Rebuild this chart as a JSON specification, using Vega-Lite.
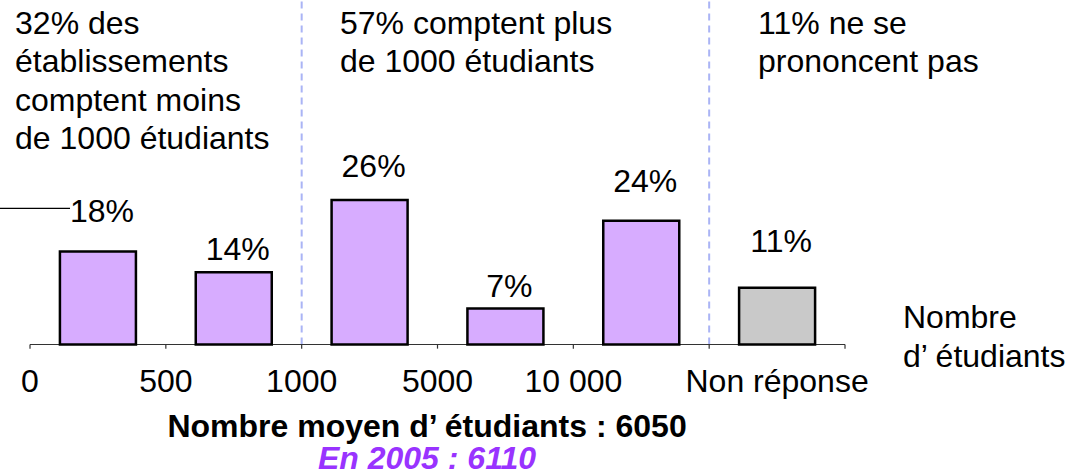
{
  "$schema": "https://vega.github.io/schema/vega-lite/v6.json",
  "width": 1069,
  "height": 476,
  "autosize": {"type": "none"},
  "padding": 0,
  "background": "white",
  "config": {"view": {"stroke": null}, "font": "Liberation Sans", "text": {"font": "Liberation Sans"}, "scale": {"continuousPadding": 0}},
  "datasets": {
    "barres": [
      {"classe": "0-500", "centre": 0.5, "valeur": 18, "etiquette": "18%", "pos_etiquette": 23.8, "groupe": "réponse"},
      {"classe": "500-1000", "centre": 1.5, "valeur": 14, "etiquette": "14%", "pos_etiquette": 16.4, "groupe": "réponse"},
      {"classe": "1000-5000", "centre": 2.5, "valeur": 28, "etiquette": "26%", "pos_etiquette": 32.5, "groupe": "réponse"},
      {"classe": "5000-10000", "centre": 3.5, "valeur": 7, "etiquette": "7%", "pos_etiquette": 9.3, "groupe": "réponse"},
      {"classe": "10000+", "centre": 4.5, "valeur": 24, "etiquette": "24%", "pos_etiquette": 29.6, "groupe": "réponse"},
      {"classe": "Non réponse", "centre": 5.5, "valeur": 11, "etiquette": "11%", "pos_etiquette": 18.0, "groupe": "non réponse"}
    ],
    "graduations": [
      {"u": 0}, {"u": 1}, {"u": 2}, {"u": 3}, {"u": 4}, {"u": 5}, {"u": 6}
    ],
    "libelles": [
      {"u": 0, "t": "0"}, {"u": 1, "t": "500"}, {"u": 2, "t": "1000"}, {"u": 3, "t": "5000"},
      {"u": 4, "t": "10 000"}, {"u": 5.5, "t": "Non réponse"}
    ],
    "separateurs": [{"u": 2}, {"u": 5}],
    "annotations": [
      {"u": -0.11, "v": 60.2, "t": ["32% des", "établissements", "comptent moins", "de 1000 étudiants"]},
      {"u": 2.282, "v": 60.2, "t": ["57% comptent plus", "de 1000 étudiants"]},
      {"u": 5.36, "v": 60.2, "t": ["11% ne se", "prononcent pas"]},
      {"u": 6.427, "v": 3.14, "t": ["Nombre", "d’ étudiants"]}
    ]
  },
  "layer": [
    {
      "data": {"name": "separateurs"},
      "mark": {"type": "rule", "color": "#AAB4F5", "strokeWidth": 2, "strokeDash": [7, 5]},
      "encoding": {
        "x": {"field": "u", "type": "quantitative", "scale": {"domain": [-0.2209, 7.649], "nice": false, "zero": false, "padding": 0}, "axis": null},
        "y": {"datum": 0, "type": "quantitative", "scale": {"domain": [-25.48, 66.76], "nice": false, "zero": false, "padding": 0}, "axis": null},
        "y2": {"datum": 66.76}
      }
    },
    {
      "data": {"values": [{"debut": 0, "fin": 6}]},
      "mark": {"type": "rule", "color": "#333333", "strokeWidth": 1.2},
      "encoding": {
        "x": {"field": "debut", "type": "quantitative", "axis": null},
        "x2": {"field": "fin"},
        "y": {"datum": 0, "type": "quantitative", "axis": null}
      }
    },
    {
      "data": {"name": "graduations"},
      "mark": {"type": "rule", "color": "#333333", "strokeWidth": 1.2},
      "encoding": {
        "x": {"field": "u", "type": "quantitative", "axis": null},
        "y": {"datum": 0, "type": "quantitative", "axis": null},
        "y2": {"datum": -0.8}
      }
    },
    {
      "data": {"values": [{"debut": -0.2209, "fin": 0.2945, "niveau": 26.4}]},
      "mark": {"type": "rule", "color": "black", "strokeWidth": 1.2},
      "encoding": {
        "x": {"field": "debut", "type": "quantitative", "axis": null},
        "x2": {"field": "fin"},
        "y": {"field": "niveau", "type": "quantitative", "axis": null}
      }
    },
    {
      "data": {"name": "barres"},
      "mark": {"type": "bar", "width": 76, "stroke": "black", "strokeWidth": 2.5},
      "encoding": {
        "x": {"field": "centre", "type": "quantitative", "axis": null},
        "y": {"field": "valeur", "type": "quantitative", "axis": null},
        "fill": {"field": "groupe", "type": "nominal", "scale": {"domain": ["réponse", "non réponse"], "range": ["#D7ACFF", "#C9C9C9"]}, "legend": null}
      }
    },
    {
      "data": {"name": "barres"},
      "mark": {"type": "text", "fontSize": 32, "dx": 4, "baseline": "alphabetic", "align": "center", "color": "black"},
      "encoding": {
        "x": {"field": "centre", "type": "quantitative", "axis": null},
        "y": {"field": "pos_etiquette", "type": "quantitative", "axis": null},
        "text": {"field": "etiquette"}
      }
    },
    {
      "data": {"name": "libelles"},
      "mark": {"type": "text", "fontSize": 32, "baseline": "alphabetic", "align": "center", "color": "black"},
      "encoding": {
        "x": {"field": "u", "type": "quantitative", "axis": null},
        "y": {"datum": -9.15, "type": "quantitative", "axis": null},
        "text": {"field": "t"}
      }
    },
    {
      "data": {"name": "annotations"},
      "mark": {"type": "text", "fontSize": 32, "baseline": "alphabetic", "align": "left", "lineHeight": 38.4, "color": "black"},
      "encoding": {
        "x": {"field": "u", "type": "quantitative", "axis": null},
        "y": {"field": "v", "type": "quantitative", "axis": null},
        "text": {"field": "t"}
      }
    },
    {
      "data": {"values": [{"u": 2.923, "v": -17.9, "t": "Nombre moyen d’ étudiants : 6050"}]},
      "mark": {"type": "text", "fontSize": 32, "fontWeight": "bold", "baseline": "alphabetic", "align": "center", "color": "#000000"},
      "encoding": {
        "x": {"field": "u", "type": "quantitative", "axis": null},
        "y": {"field": "v", "type": "quantitative", "axis": null},
        "text": {"field": "t"}
      }
    },
    {
      "data": {"values": [{"u": 2.923, "v": -24.2, "t": "En 2005 : 6110"}]},
      "mark": {"type": "text", "fontSize": 32, "fontWeight": "bold", "fontStyle": "italic", "baseline": "alphabetic", "align": "center", "color": "#9933FF"},
      "encoding": {
        "x": {"field": "u", "type": "quantitative", "axis": null},
        "y": {"field": "v", "type": "quantitative", "axis": null},
        "text": {"field": "t"}
      }
    }
  ]
}
